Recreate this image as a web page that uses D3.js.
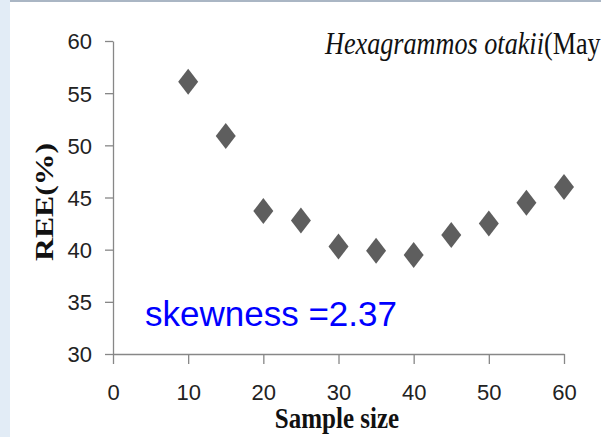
<!DOCTYPE html>
<html>
<head>
<meta charset="utf-8">
<script src="https://cdn.jsdelivr.net/npm/d3@7"></script>
<style>
  body { margin: 0; }
  svg { display: block; }
</style>
</head>
<body>
<svg width="601" height="437"></svg>
<script>
// data
const sampleSize = [10, 15, 20, 25, 30, 35, 40, 45, 50, 55, 60];
const ree = [56.1, 50.9, 43.7, 42.8, 40.3, 39.9, 39.5, 41.4, 42.5, 44.5, 46.0];
const xTicks = [0, 10, 20, 30, 40, 50, 60];
const yTicks = [30, 35, 40, 45, 50, 55, 60];

const svg = d3.select("svg");
const width = parseInt(svg.attr("width"));
const height = parseInt(svg.attr("height"));

// page frame
svg.append("rect").attr("width", width).attr("height", height).attr("fill", "#e2ecf6");
svg.append("rect").attr("x", 10).attr("y", 2).attr("width", width - 10).attr("height", height - 2).attr("fill", "#fff");
svg.append("line").attr("x1", 10).attr("x2", width).attr("y1", 1).attr("y2", 1)
  .attr("stroke", "#aab6c4").attr("stroke-width", 2);

const x = d3.scaleLinear().domain([0, 60]).range([113, 564]);
const y = d3.scaleLinear().domain([30, 60]).range([354, 41]);

const axisColor = "#878787";

const xAxis = svg.append("g")
  .attr("transform", `translate(0, ${y(30)})`)
  .call(d3.axisBottom(x).tickValues(xTicks).tickSize(10).tickPadding(20).tickSizeOuter(0));

const yAxis = svg.append("g")
  .attr("transform", `translate(${x(0)}, 0)`)
  .call(d3.axisLeft(y).tickValues(yTicks).tickSize(8).tickPadding(13).tickSizeOuter(0));

[xAxis, yAxis].forEach(a => {
  a.select(".domain").attr("stroke", axisColor).attr("stroke-width", 1.3);
  a.selectAll(".tick line").attr("stroke", axisColor).attr("stroke-width", 1.3);
  a.selectAll(".tick text")
    .attr("fill", "#222")
    .attr("font-family", "Liberation Sans, Arial, sans-serif")
    .attr("font-size", 22);
});
yAxis.selectAll(".tick text").attr("dy", "0.36em");
xAxis.selectAll(".tick text").attr("dy", "0.71em");

// diamonds
const diamond = "M0,-13L10,0L0,13L-10,0Z";
svg.append("g")
  .selectAll("path")
  .data(sampleSize)
  .join("path")
  .attr("d", diamond)
  .attr("transform", (d, i) => `translate(${x(d)}, ${y(ree[i])})`)
  .attr("fill", "#5e5e5e");

// title (clipped at the right edge)
const title = svg.append("text")
  .attr("transform", "translate(325, 54) scale(1, 1.2)")
  .attr("font-family", "Liberation Serif, Times New Roman, serif")
  .attr("font-size", 26.2)
  .attr("fill", "#111");
title.append("tspan").attr("font-style", "italic").text("Hexagrammos otakii");
title.append("tspan").text("(May)");

// skewness note
svg.append("text")
  .attr("x", 145)
  .attr("y", 326)
  .attr("font-family", "Liberation Sans, Arial, sans-serif")
  .attr("font-size", 35)
  .attr("fill", "#0000ff")
  .text("skewness =2.37");

// axis titles
svg.append("text")
  .attr("transform", "translate(337, 428) scale(1, 1.15)")
  .attr("text-anchor", "middle")
  .attr("font-family", "Liberation Serif, Times New Roman, serif")
  .attr("font-weight", "bold")
  .attr("font-size", 25)
  .attr("fill", "#111")
  .text("Sample size");

svg.append("text")
  .attr("transform", "translate(53, 202) rotate(-90) scale(1.22, 1)")
  .attr("text-anchor", "middle")
  .attr("font-family", "Liberation Serif, Times New Roman, serif")
  .attr("font-weight", "bold")
  .attr("font-size", 26)
  .attr("fill", "#111")
  .text("REE(%)");
</script>
</body>
</html>
